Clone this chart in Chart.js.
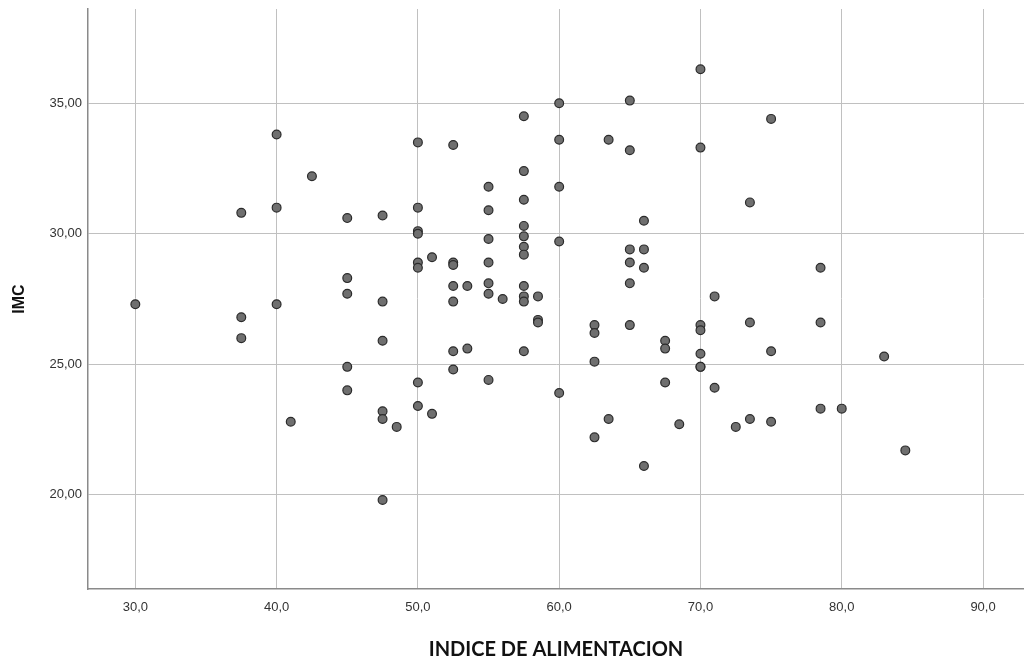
<!DOCTYPE html>
<html>
<head>
<meta charset="utf-8">
<title>IMC vs Indice de alimentacion</title>
<script src="https://cdn.jsdelivr.net/npm/chart.js@4.4.1/dist/chart.umd.min.js"></script>
<style>
  html, body { margin: 0; padding: 0; background: #fff; overflow: hidden; }
  #wrap { width: 1024px; height: 662px; position: relative; }
</style>
</head>
<body>
<div id="wrap"><canvas id="scatterChart"></canvas></div>
<script>
// valores
const indiceAlimentacion = [
  30,
  37.5, 37.5, 37.5,
  40, 40, 40,
  41,
  42.5,
  45, 45, 45, 45, 45,
  47.5, 47.5, 47.5, 47.5, 47.5, 47.5,
  48.5,
  50, 50, 50, 50, 50, 50, 50, 50,
  51, 51,
  52.5, 52.5, 52.5, 52.5, 52.5, 52.5, 52.5,
  53.5, 53.5,
  55, 55, 55, 55, 55, 55, 55,
  56,
  57.5, 57.5, 57.5, 57.5, 57.5, 57.5, 57.5, 57.5, 57.5, 57.5, 57.5,
  58.5, 58.5, 58.5,
  60, 60, 60, 60, 60,
  62.5, 62.5, 62.5, 62.5,
  63.5, 63.5,
  65, 65, 65, 65, 65, 65,
  66, 66, 66, 66,
  67.5, 67.5, 67.5,
  68.5,
  70, 70, 70, 70, 70, 70, 70,
  71, 71,
  72.5,
  73.5, 73.5, 73.5,
  75, 75, 75,
  78.5, 78.5, 78.5,
  80,
  83,
  84.5
];

const imc = [
  27.3,
  30.8, 26.8, 26.0,
  33.8, 31.0, 27.3,
  22.8,
  32.2,
  30.6, 28.3, 27.7, 24.9, 24.0,
  30.7, 27.4, 25.9, 23.2, 22.9, 19.8,
  22.6,
  33.5, 31.0, 30.1, 30.0, 28.9, 28.7, 24.3, 23.4,
  29.1, 23.1,
  33.4, 28.9, 28.8, 28.0, 27.4, 25.5, 24.8,
  28.0, 25.6,
  31.8, 30.9, 29.8, 28.9, 28.1, 27.7, 24.4,
  27.5,
  34.5, 32.4, 31.3, 30.3, 29.9, 29.5, 29.2, 28.0, 27.6, 27.4, 25.5,
  27.6, 26.7, 26.6,
  35.0, 33.6, 31.8, 29.7, 23.9,
  26.5, 26.2, 25.1, 22.2,
  33.6, 22.9,
  35.1, 33.2, 29.4, 28.9, 28.1, 26.5,
  30.5, 29.4, 28.7, 21.1,
  25.9, 25.6, 24.3,
  22.7,
  36.3, 33.3, 26.5, 26.3, 25.4, 24.9, 24.9,
  27.6, 24.1,
  22.6,
  31.2, 26.6, 22.9,
  34.4, 25.5, 22.8,
  28.7, 26.6, 23.3,
  23.3,
  25.3,
  21.7
];

const xTicks = [30, 40, 50, 60, 70, 80, 90];
const yTicks = [20, 25, 30, 35];

const puntos = indiceAlimentacion.map(function(x, i) {
  return { x: x, y: imc[i] };
});

function coma(value, dec) {
  return value.toFixed(dec).replace('.', ',');
}

const ctx = document.getElementById('scatterChart').getContext('2d');

new Chart(ctx, {
  type: 'scatter',
  data: {
    datasets: [{
      label: 'IMC',
      data: puntos,
      pointRadius: 4.4,
      pointHoverRadius: 4.4,
      pointBackgroundColor: '#6f6f6f',
      pointBorderColor: '#2b2b2b',
      pointBorderWidth: 1.2
    }]
  },
  options: {
    responsive: true,
    maintainAspectRatio: false,
    animation: false,
    layout: {
      autoPadding: false,
      padding: { top: 9, right: 0, left: 0, bottom: 0 }
    },
    plugins: {
      legend: { display: false },
      tooltip: { enabled: false }
    },
    scales: {
      x: {
        type: 'linear',
        min: 26.65,
        max: 92.9,
        afterBuildTicks: function(scale) {
          scale.ticks = xTicks.map(function(v) { return { value: v }; });
        },
        afterFit: function(scale) {
          scale.height = 73;
          // sin margen extra para las etiquetas
          scale.paddingLeft = 0;
          scale.paddingRight = 0;
        },
        grid: { color: '#c0c0c0', lineWidth: 1, drawTicks: false },
        border: { display: true, color: '#8a8a8a', width: 1.5 },
        ticks: {
          padding: 11,
          color: '#333',
          font: { family: 'Liberation Sans, Arial, sans-serif', size: 13 },
          maxRotation: 0,
          callback: function(value) { return coma(value, 1); }
        },
        title: {
          display: true,
          text: 'INDICE DE ALIMENTACION',
          color: '#111',
          font: { family: 'Lato, sans-serif', size: 20, weight: 'bold' },
          padding: { top: 0, bottom: 0 }
        }
      },
      y: {
        type: 'linear',
        min: 16.39,
        max: 38.61,
        afterBuildTicks: function(scale) {
          scale.ticks = yTicks.map(function(v) { return { value: v }; });
        },
        afterFit: function(scale) {
          scale.width = 88;
          scale.paddingTop = 0;
          scale.paddingBottom = 0;
        },
        grid: { color: '#c0c0c0', lineWidth: 1, drawTicks: false },
        border: { display: true, color: '#8a8a8a', width: 1.5 },
        ticks: {
          padding: 6,
          color: '#333',
          font: { family: 'Liberation Sans, Arial, sans-serif', size: 13 },
          callback: function(value) { return coma(value, 2); }
        },
        title: {
          display: true,
          text: 'IMC',
          color: '#111',
          font: { family: 'Liberation Sans, Arial, sans-serif', size: 16, weight: 'bold' },
          padding: { top: 10, bottom: 0 }
        }
      }
    }
  }
});
</script>
</body>
</html>
